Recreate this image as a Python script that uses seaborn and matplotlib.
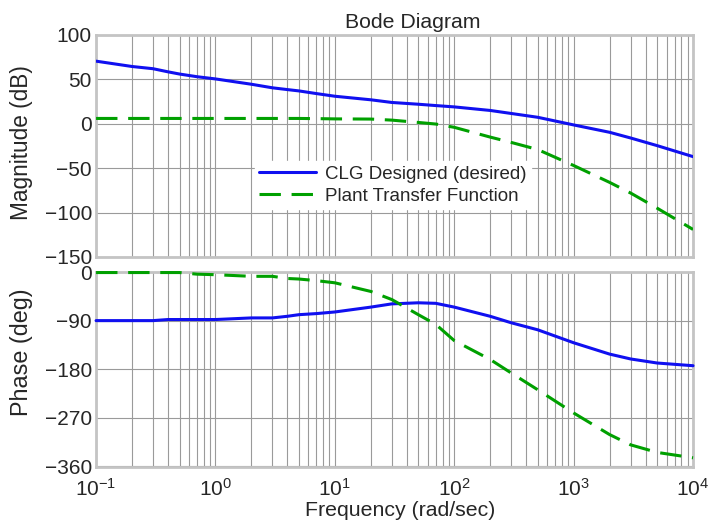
import numpy as np
import pandas as pd
import matplotlib
matplotlib.use('Agg')
import matplotlib.pyplot as plt
import seaborn as sns

# Frequencies (rad/sec) and values
freq = [0.1, 0.2, 0.3, 0.4, 0.5, 0.7, 1, 2, 3, 4, 5, 7, 10,
        20, 30, 50, 70, 100, 200, 300, 500, 1000, 2000, 3000, 5000, 10000]
clg_mag = [70.5, 64.5, 62, 58.5, 56, 53, 50.5, 44.5, 40.5, 38.5, 37, 34, 31,
           27, 24, 22, 20.5, 19, 15, 11.6, 7.3, -1.3, -9.6, -16, -24.6, -37]
plant_mag = [6, 6, 6, 6, 6, 6, 6, 6, 6, 6, 6, 5.8, 5.5,
             5.3, 4.1, 1.5, -0.3, -4, -15, -21, -29, -47, -66, -78, -95, -119]
clg_phase = [-90, -90, -90, -88, -88, -88, -88, -85, -85, -82, -79, -77, -74,
             -65, -59, -57, -58, -65, -82, -94, -107, -131, -152, -161, -168.5, -173.5]
plant_phase = [-1, -1, -1, -1, -1, -4, -5, -8, -8, -12, -13, -16, -20,
               -36, -51, -79, -97, -127, -162, -187, -218, -261, -301, -320, -334, -344]

labels = ['CLG Designed (desired)', 'Plant Transfer Function']

df = pd.DataFrame({
    'freq': freq * 2,
    'mag': clg_mag + plant_mag,
    'phase': clg_phase + plant_phase,
    'series': [labels[0]] * len(freq) + [labels[1]] * len(freq),
})

sns.set_style('white')
plt.rcParams['font.family'] = ['Liberation Sans', 'DejaVu Sans']
plt.rcParams['mathtext.fontset'] = 'custom'
plt.rcParams['mathtext.rm'] = 'Liberation Sans'
plt.rcParams['axes.unicode_minus'] = True

palette = {labels[0]: '#1010f0', labels[1]: '#00a000'}
dashes = {labels[0]: '', labels[1]: (7, 3.5)}

fig = plt.figure(figsize=(7.17, 5.25), dpi=100)
ax1 = fig.add_axes([0.134, 0.5105, 0.8326, 0.4229])
ax2 = fig.add_axes([0.134, 0.1105, 0.8326, 0.3714])

sns.lineplot(data=df, x='freq', y='mag', hue='series', style='series',
             palette=palette, dashes=dashes, linewidth=2.2, ax=ax1, zorder=3)
sns.lineplot(data=df, x='freq', y='phase', hue='series', style='series',
             palette=palette, dashes=dashes, linewidth=2.2, ax=ax2,
             legend=False, zorder=3)
for line in ax2.get_lines():
    line.set_clip_on(False)

for ax in (ax1, ax2):
    ax.set_xscale('log')
    ax.set_xlim(0.1, 1e4)
    ax.grid(True, which='both', axis='x', color='#9a9a9a', linewidth=0.8)
    ax.grid(True, which='major', axis='y', color='#9a9a9a', linewidth=0.8)
    for s in ax.spines.values():
        s.set_color('#c4c4c4')
        s.set_linewidth(2)
    ax.tick_params(length=0, labelsize=15, pad=3)

ax1.set_ylim(-150, 100)
ax1.set_yticks([-150, -100, -50, 0, 50, 100])
ax1.tick_params(axis='x', which='both', labelbottom=False)
ax1.set_xlabel('')
ax1.set_ylabel('Magnitude (dB)', fontsize=16.3)
ax1.yaxis.set_label_coords(-0.105, 0.514)
ax1.set_title('Bode Diagram', fontsize=15.3, pad=5, x=0.531)

ax2.set_ylim(-361, 0)
ax2.set_yticks([-360, -270, -180, -90, 0])
ax2.set_xticks([0.1, 1, 10, 100, 1000, 10000])
ax2.tick_params(axis='x', pad=8)
ax2.set_xlabel('Frequency (rad/sec)', fontsize=15.3, x=0.509, labelpad=1)
ax2.set_ylabel('Phase (deg)', fontsize=16.8)
ax2.yaxis.set_label_coords(-0.105, 0.59)

leg = ax1.legend(loc='upper left', bbox_to_anchor=(0.25, 0.475), fontsize=13.5,
                 frameon=True, fancybox=False, edgecolor='white',
                 framealpha=1, handlelength=3.0, handletextpad=0.5,
                 borderpad=0.25, labelspacing=0.25)

fig.savefig('out.png', dpi=100)
